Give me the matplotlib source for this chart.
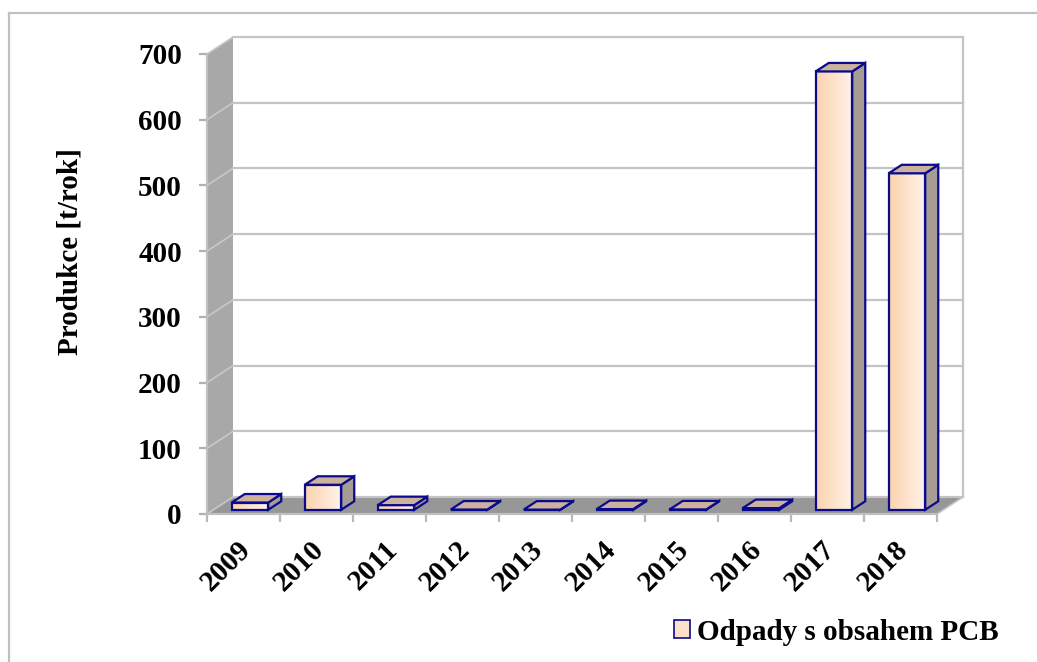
import matplotlib
matplotlib.use("Agg")
import matplotlib.pyplot as plt
import numpy as np
from matplotlib import patches
from matplotlib.colors import LinearSegmentedColormap
from matplotlib.lines import Line2D

years = ['2009', '2010', '2011', '2012', '2013', '2014', '2015', '2016', '2017', '2018']
values = [11, 38, 7, 0.3, 0.2, 1, 0.5, 2.5, 667, 512]
y_ticks = [0, 100, 200, 300, 400, 500, 600, 700]
series_name = 'Odpady s obsahem PCB'
y_title = 'Produkce [t/rok]'

plt.rcParams['font.family'] = ['Liberation Serif', 'DejaVu Serif']
plt.rcParams['font.weight'] = 'bold'
FS = 21

W, H = 1037, 662
fig = plt.figure(figsize=(W / 100, H / 100), dpi=100)
ax = fig.add_axes([0, 0, 1, 1])

# pixel mapping: front origin at (207, 514), 73 px per category, 460 px per 700
x0_px, y0_px, px_cat, px_val = 207, 514, 73, 460 / 700
DX, DY = 26 / px_cat, 17 / px_val          # depth offset of the 3d box
ax.set_xlim(-x0_px / px_cat, (W - x0_px) / px_cat)
ax.set_ylim(-(H - y0_px) / px_val, y0_px / px_val)

n = len(years)
top = y_ticks[-1]
grid_c = '#c4c4c4'

# walls and floor
ax.add_patch(patches.Polygon([(0, 0), (DX, DY), (DX, top + DY), (0, top)],
                             closed=True, fc='#a8a8a8', ec='none', zorder=0))
ax.add_patch(patches.Polygon([(0, 0), (n, 0), (n + DX, DY), (DX, DY)],
                             closed=True, fc='#979797', ec='none', zorder=0))
for t in y_ticks:
    ax.plot([DX, n + DX], [t + DY, t + DY], color=grid_c, lw=1.6, zorder=1)
    ax.plot([0, DX], [t, t + DY], color='#c8c8c8', lw=1.2, zorder=1)
ax.plot([n + DX, n + DX], [DY, top + DY], color=grid_c, lw=1.6, zorder=1)
ax.plot([n, n + DX], [0, DY], color=grid_c, lw=1.2, zorder=1)

# bars
front_cmap = LinearSegmentedColormap.from_list('front', ['#fcd3ac', '#fff3ec'])
grad = np.linspace(0, 1, 64).reshape(1, -1)
edge = '#0a0a8c'
bw = 0.5
for i, v in enumerate(values):
    bx = i + 0.25 + 0.25 * DX
    by = 0.25 * DY
    ax.imshow(grad, extent=(bx, bx + bw, by, by + v), aspect='auto',
              cmap=front_cmap, zorder=3, interpolation='bilinear')
    ax.bar(bx, v, width=bw, bottom=by, align='edge', color='none',
           edgecolor=edge, lw=1.6, zorder=4)
    side = [(bx + bw, by), (bx + bw + 0.5 * DX, by + 0.5 * DY),
            (bx + bw + 0.5 * DX, by + v + 0.5 * DY), (bx + bw, by + v)]
    ax.add_patch(patches.Polygon(side, closed=True, fc='#a69c93', ec=edge,
                                 lw=1.6, zorder=4))
    lid = [(bx, by + v), (bx + bw, by + v),
           (bx + bw + 0.5 * DX, by + v + 0.5 * DY), (bx + 0.5 * DX, by + v + 0.5 * DY)]
    ax.add_patch(patches.Polygon(lid, closed=True, fc='#ccb19d', ec=edge,
                                 lw=1.6, zorder=4))

# axes lines and ticks
ax.spines['top'].set_visible(False)
ax.spines['right'].set_visible(False)
ax.spines['left'].set_position(('data', 0))
ax.spines['left'].set_bounds(0, top)
ax.spines['bottom'].set_position(('data', 0))
ax.spines['bottom'].set_bounds(0, n)
for s in ('left', 'bottom'):
    ax.spines[s].set_color('#c0c0c0')
    ax.spines[s].set_linewidth(1.6)
    ax.spines[s].set_zorder(2)

ax.set_yticks(y_ticks)
ax.set_yticklabels([str(t) for t in y_ticks], fontsize=FS, fontweight='bold')
ax.tick_params(axis='y', length=6, width=1.6, color='#b0b0b0', pad=12)

# labels sit a little left of the category centre, as in the source chart
ax.set_xticks(np.arange(n) + 0.42)
ax.set_xticks(np.arange(n + 1), minor=True)
ax.set_xticklabels(years, fontsize=FS, fontweight='bold')
ax.tick_params(axis='x', which='major', length=0, pad=16)
ax.tick_params(axis='x', which='minor', length=6, width=1.6, color='#b8b8b8')
for lab in ax.get_xticklabels():
    lab.set_rotation(45)
    lab.set_ha('right')
    lab.set_va('top')
    lab.set_rotation_mode('anchor')

fig.text(70 / W, 1 - 252 / H, y_title, rotation=90, ha='center', va='center',
         fontsize=FS, fontweight='bold')

# legend
handle = patches.Patch(fc='#fde0c9', ec=edge, lw=1.2, label=series_name)
fig.legend(handles=[handle], loc='center left', bbox_to_anchor=(674 / W, 1 - 632 / H),
           frameon=False, fontsize=FS, handlelength=0.55, handleheight=0.55,
           handletextpad=0.25, borderpad=0, borderaxespad=0)

# outer frame
fig.add_artist(Line2D([9 / W, 9 / W], [0, 1 - 13 / H], color='#c0c0c0', lw=1.6))
fig.add_artist(Line2D([9 / W, 1], [1 - 13 / H, 1 - 13 / H], color='#c0c0c0', lw=1.6))

fig.savefig('out.png', dpi=100)
